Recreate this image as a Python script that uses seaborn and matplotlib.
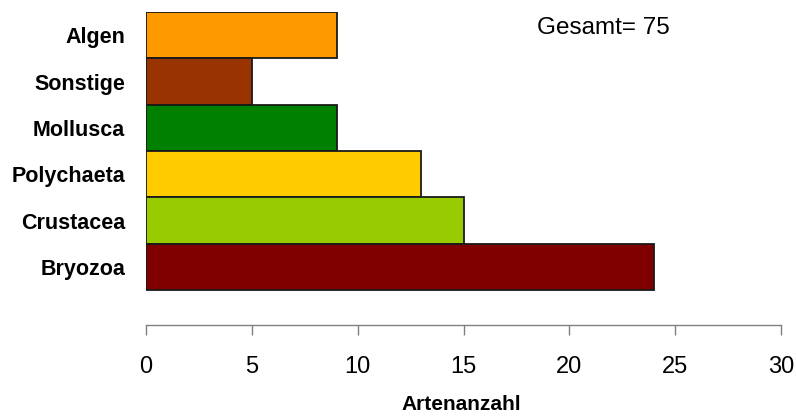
import matplotlib
matplotlib.use("Agg")
import matplotlib.pyplot as plt
import seaborn as sns
import pandas as pd

categories = ["Algen", "Sonstige", "Mollusca", "Polychaeta", "Crustacea", "Bryozoa"]
values = [9, 5, 9, 13, 15, 24]
colors = ["#FF9900", "#993300", "#008000", "#FFCC00", "#99CC00", "#800000"]
xticks = [0, 5, 10, 15, 20, 25, 30]
total_label = "Gesamt= 75"
xlabel = "Artenanzahl"

sns.set_style("white")
plt.rcParams["font.family"] = ["Liberation Sans", "DejaVu Sans"]
plt.rcParams["text.color"] = "black"
plt.rcParams["axes.labelcolor"] = "black"
plt.rcParams["xtick.color"] = "black"
plt.rcParams["ytick.color"] = "black"

df = pd.DataFrame({"cat": categories, "val": values})

fig = plt.figure(figsize=(7.96, 4.16), dpi=100)
ax = fig.add_axes([146/796, 1 - 325/416, (781 - 146)/796, (325 - 12)/416])

sns.barplot(data=df, x="val", y="cat", hue="cat", order=categories,
            palette=dict(zip(categories, colors)), orient="h", width=1.0,
            saturation=1, legend=False, edgecolor="#1a1a1a", linewidth=1.3, ax=ax)

ax.set_xlim(0, 30)
ax.set_ylim(6.255, -0.5)
ax.set_xticks(xticks)
ax.set_xticklabels([str(t) for t in xticks], fontsize=17)
ax.set_yticks(range(len(categories)))
ax.set_yticklabels(categories, fontsize=15.5, fontweight="bold")
ax.set_ylabel("")
ax.set_xlabel("")
fig.text(461/796, 6/416, xlabel, ha="center", va="baseline",
         fontsize=15, fontweight="bold", color="black")

for s in ["top", "right", "left"]:
    ax.spines[s].set_visible(False)
ax.spines["bottom"].set_color("#808080")
ax.spines["bottom"].set_linewidth(1.0)
ax.tick_params(axis="x", bottom=True, direction="out", length=7, width=1.0,
               color="#808080", labelcolor="black", pad=15)
ax.tick_params(axis="y", left=False, length=0, pad=15, labelcolor="black")

ax.text(21.6, -0.15, total_label, ha="center", va="center", fontsize=17.5, color="black")

fig.savefig("out.png", dpi=100, facecolor="white")
